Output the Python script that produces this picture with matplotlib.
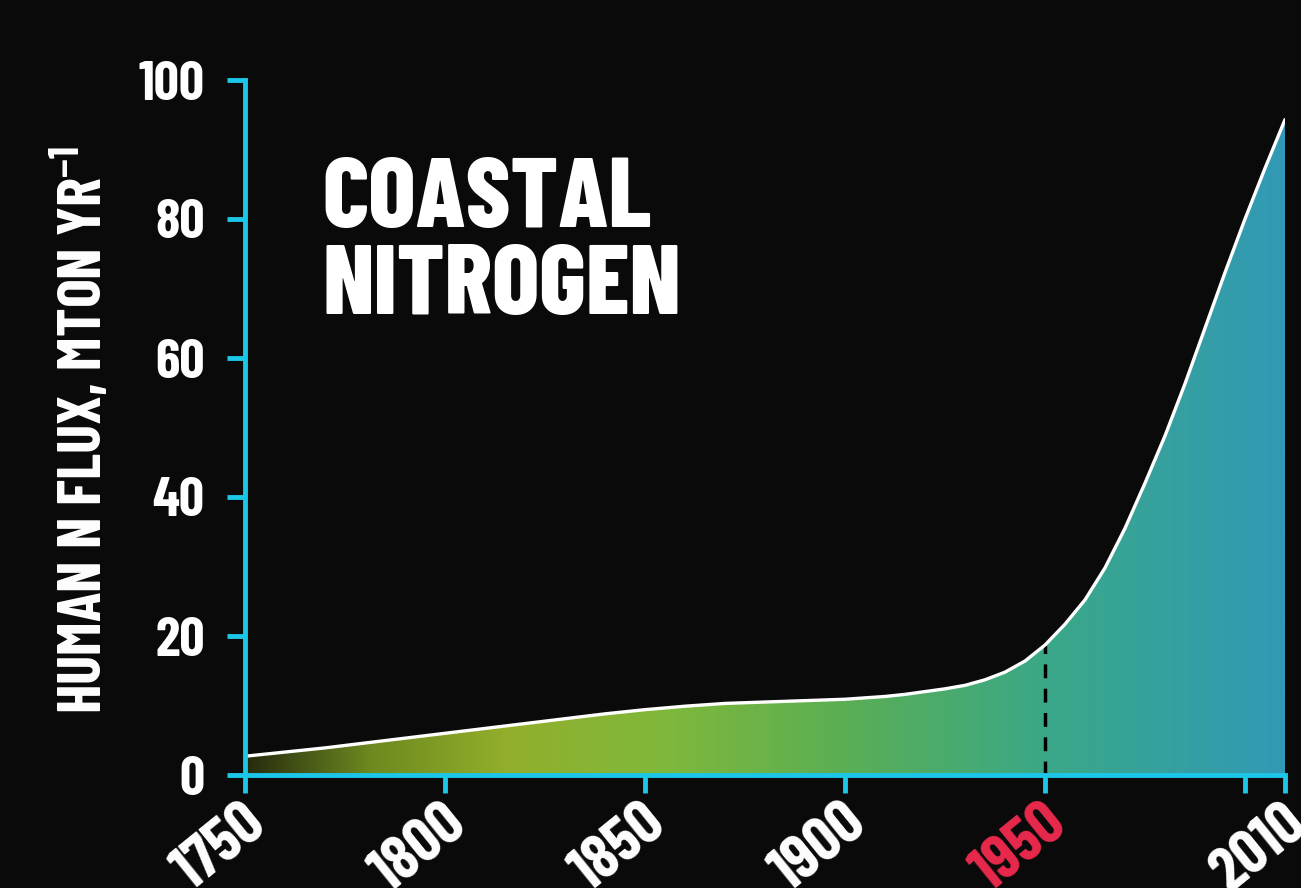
import numpy as np
import matplotlib.pyplot as plt
from matplotlib.colors import LinearSegmentedColormap
from matplotlib.transforms import ScaledTranslation
from matplotlib import font_manager

# values
years = [1750, 1760, 1770, 1780, 1790, 1800, 1810, 1820, 1830, 1840,
         1850, 1860, 1870, 1880, 1890, 1900, 1905, 1910, 1915, 1920,
         1925, 1930, 1935, 1940, 1945, 1950, 1955, 1960, 1965, 1970,
         1975, 1980, 1985, 1990, 1995, 2000, 2005, 2010]
flux = [2.7, 3.3, 3.9, 4.6, 5.3, 6.0, 6.7, 7.4, 8.1, 8.8,
        9.4, 9.9, 10.3, 10.5, 10.7, 10.9, 11.1, 11.3, 11.6, 12.0,
        12.4, 12.9, 13.7, 14.8, 16.4, 18.7, 21.7, 25.2, 29.8, 35.5,
        42.0, 48.8, 56.3, 64.3, 72.3, 80.0, 87.3, 94.3]

tick_years = [1750, 1800, 1850, 1900, 1950, 2000, 2010]
tick_labels = ['1750', '1800', '1850', '1900', '1950', '', '2010']
highlight_year = 1950
y_ticks = [0, 20, 40, 60, 80, 100]

title = 'COASTAL\nNITROGEN'
ylabel = 'HUMAN N FLUX, MTON YR$^{-1}$'

names = {f.name for f in font_manager.fontManager.ttflist}
cands = ['Barlow Condensed', 'Roboto Condensed', 'Oswald', 'Liberation Sans Narrow']
fams = [c for c in cands if c in names][:1] + ['DejaVu Sans']
plt.rcParams['font.family'] = fams
plt.rcParams['mathtext.default'] = 'regular'

bg = '#0a0a0a'
cyan = '#1cc6e8'
red = '#e8294c'

fig = plt.figure(figsize=(13.01, 8.88), dpi=100, facecolor=bg)
ax = fig.add_axes([245 / 1301, 113 / 888, 1040 / 1301, 695 / 888])
ax.set_facecolor('none')
ax.set_xlim(1750, 2010)
ax.set_ylim(0, 100)

# gradient area under the curve
cmap = LinearSegmentedColormap.from_list('coast', [
    (0.00, '#262b0e'),
    (0.12, '#6d8a1f'),
    (0.25, '#93ae2c'),
    (0.40, '#80b83b'),
    (0.58, '#5aae55'),
    (0.77, '#3aa887'),
    (1.00, '#3299b6'),
])
area = ax.fill_between(years, flux, 0, facecolor='none', lw=0)
grad = np.linspace(0, 1, 512).reshape(1, -1)
img = ax.imshow(grad, extent=[1750, 2010, 0, 100], aspect='auto', cmap=cmap,
                origin='lower', zorder=1, interpolation='bilinear')
img.set_clip_path(area.get_paths()[0], transform=ax.transData)

ax.plot(years, flux, color='white', lw=2.4, zorder=3, solid_capstyle='round',
        solid_joinstyle='round')
ax.vlines(highlight_year, 0, flux[years.index(highlight_year)], colors='black',
          lw=2.5, linestyles=(0, (4, 3)), zorder=2)

for s in ['top', 'right']:
    ax.spines[s].set_visible(False)
for s in ['left', 'bottom']:
    ax.spines[s].set_color(cyan)
    ax.spines[s].set_linewidth(3.5)
    ax.spines[s].set_zorder(4)

ax.set_yticks(y_ticks)
ax.set_yticklabels([str(v) for v in y_ticks], fontsize=40, color='white',
                   fontweight='bold')
ax.set_xticks(tick_years)
ax.set_xticklabels(tick_labels, fontsize=45, color='white', fontweight='bold',
                   rotation=39, ha='right', va='baseline', rotation_mode='anchor')
ax.tick_params(axis='both', length=13, width=3.5, color=cyan)
ax.tick_params(axis='y', pad=16)
ax.tick_params(axis='x', pad=0)
off = ScaledTranslation(24 / 100, -36 / 100, fig.dpi_scale_trans)
for lab, yr in zip(ax.get_xticklabels(), tick_years):
    lab.set_transform(lab.get_transform() + off)
    if yr == highlight_year:
        lab.set_color(red)

fig.text(82 / 1301, 1 - 430 / 888, ylabel, rotation=90, color='white',
         fontsize=44, fontweight='bold', ha='center', va='center')
fig.text(322 / 1301, 1 - 158 / 888, title, color='white', fontsize=71,
         fontweight='heavy', ha='left', va='top', linespacing=1.0)

fig.savefig('out.png', dpi=100, facecolor=bg)
